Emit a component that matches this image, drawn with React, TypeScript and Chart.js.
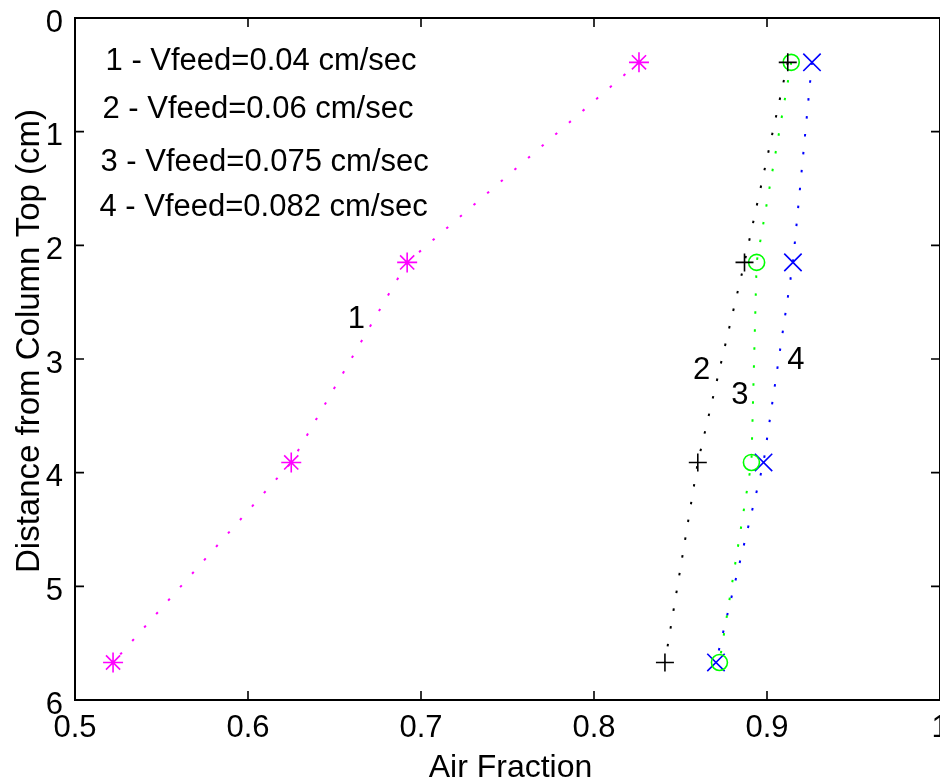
import React, { useEffect, useRef } from 'react';
import { Chart, registerables } from 'chart.js';

Chart.register(...registerables);

// ---- data ----
const depthCm = [0.39, 2.15, 3.91, 5.67];
const airFrac1 = [0.826, 0.692, 0.625, 0.522];
const airFrac2 = [0.912, 0.887, 0.86, 0.841];
const airFrac3 = [0.914, 0.894, 0.891, 0.8725];
const airFrac4 = [0.926, 0.915, 0.898, 0.8705];

const seriesLabels = [
  '1 - Vfeed=0.04 cm/sec',
  '2 - Vfeed=0.06 cm/sec',
  '3 - Vfeed=0.075 cm/sec',
  '4 - Vfeed=0.082 cm/sec',
];
const legendX = [0.5188, 0.517, 0.5159, 0.5153];
const legendY = [0.358, 0.78, 1.249, 1.645];

const curveTags = ['1', '2', '3', '4'];
const tagX = [0.6626, 0.8622, 0.8843, 0.9167];
const tagY = [2.63, 3.08, 3.3, 2.99];

const xTicks = [0.5, 0.6, 0.7, 0.8, 0.9, 1];
const yTicks = [0, 1, 2, 3, 4, 5, 6];

const xTitle = 'Air Fraction';
const yTitle = 'Distance from Column Top (cm)';

const FONT = '"Liberation Sans", Arial, Helvetica, sans-serif';
const FS = 31;
const TITLE_FS = 32;
const YTITLE_FS = 33;

const framePlugin = {
  id: 'matlabFrame',
  afterDraw(chart: any) {
    const { ctx, chartArea: a, scales } = chart;
    const xs = scales.x;
    const ys = scales.y;
    ctx.save();
    ctx.strokeStyle = '#000';
    ctx.lineWidth = 2;
    ctx.strokeRect(a.left, a.top, a.right - a.left, a.bottom - a.top);
    ctx.lineWidth = 1.6;
    ctx.beginPath();
    xTicks.forEach((v) => {
      const px = xs.getPixelForValue(v);
      ctx.moveTo(px, a.bottom);
      ctx.lineTo(px, a.bottom - 9);
      ctx.moveTo(px, a.top);
      ctx.lineTo(px, a.top + 9);
    });
    yTicks.forEach((v) => {
      const py = ys.getPixelForValue(v);
      ctx.moveTo(a.left, py);
      ctx.lineTo(a.left + 9, py);
      ctx.moveTo(a.right, py);
      ctx.lineTo(a.right - 9, py);
    });
    ctx.stroke();

    ctx.fillStyle = '#000';
    ctx.font = `${FS}px ${FONT}`;
    ctx.textBaseline = 'alphabetic';
    // legend-like text block
    ctx.textAlign = 'left';
    seriesLabels.forEach((t, i) => {
      const px = xs.getPixelForValue(legendX[i]);
      const py = ys.getPixelForValue(legendY[i]);
      ctx.fillText(t, px - 2, py + 0.358 * FS);
    });
    // curve tags
    ctx.textAlign = 'center';
    curveTags.forEach((t, i) => {
      const px = xs.getPixelForValue(tagX[i]);
      const py = ys.getPixelForValue(tagY[i]);
      ctx.fillText(t, px, py + 0.358 * FS);
    });
    // axis titles
    ctx.font = `${TITLE_FS}px ${FONT}`;
    ctx.fillText(xTitle, (a.left + a.right) / 2 + 3, 766 + 0.358 * TITLE_FS);
    ctx.font = `${YTITLE_FS}px ${FONT}`;
    ctx.translate(27, 341);
    ctx.rotate(-Math.PI / 2);
    ctx.fillText(yTitle, 0, 0.358 * YTITLE_FS);
    ctx.restore();
  },
};

function makeSeries(xs: number[], color: string, style: string, radius: number) {
  return {
    data: xs.map((x, i) => ({ x, y: depthCm[i] })),
    showLine: true,
    borderColor: color,
    backgroundColor: 'transparent',
    borderWidth: 2,
    borderDash: [2.5, 15.5],
    tension: 0,
    pointStyle: style,
    pointRadius: radius,
    pointHoverRadius: radius,
    pointBorderWidth: 1.6,
    pointBorderColor: color,
    pointBackgroundColor: 'transparent',
  };
}

export default function App() {
  const ref = useRef<HTMLCanvasElement | null>(null);
  useEffect(() => {
    if (!ref.current) return;
    const chart = new Chart(ref.current, {
      type: 'scatter',
      data: {
        datasets: [
          makeSeries(airFrac1, '#ff00ff', 'star', 10),
          makeSeries(airFrac2, '#000000', 'cross', 9),
          makeSeries(airFrac3, '#00ff00', 'circle', 8),
          makeSeries(airFrac4, '#0000ff', 'crossRot', 12.3),
        ] as any,
      },
      options: {
        responsive: false,
        animation: false,
        devicePixelRatio: 1,
        layout: { autoPadding: false, padding: { top: 18, right: 0, left: 0, bottom: 0 } },
        plugins: { legend: { display: false }, tooltip: { enabled: false } },
        scales: {
          x: {
            type: 'linear',
            position: 'bottom',
            min: 0.5,
            max: 1,
            grid: { display: false, drawTicks: false },
            border: { display: false },
            ticks: {
              stepSize: 0.1,
              autoSkip: false,
              maxRotation: 0,
              padding: 10,
              color: '#000',
              font: { family: FONT, size: FS },
              callback: (v: any) => (Math.abs(Number(v) - 1) < 1e-9 ? '1' : Number(v).toFixed(1)),
            },
            afterFit: (s: any) => {
              s.height = 82;
              s.paddingLeft = 0;
              s.paddingRight = 0;
            },
          },
          y: {
            type: 'linear',
            position: 'left',
            min: 0,
            max: 6,
            reverse: true,
            grid: { display: false, drawTicks: false },
            border: { display: false },
            ticks: {
              stepSize: 1,
              autoSkip: false,
              padding: 12,
              labelOffset: 5,
              color: '#000',
              font: { family: FONT, size: FS },
            },
            afterFit: (s: any) => {
              s.width = 75;
              s.paddingTop = 0;
              s.paddingBottom = 0;
            },
          },
        },
      },
      plugins: [framePlugin],
    });
    return () => chart.destroy();
  }, []);
  return (
    <div style={{ position: 'fixed', left: 0, top: 0, width: 940, height: 782, background: '#fff' }}>
      <canvas ref={ref} width={940} height={782} />
    </div>
  );
}
